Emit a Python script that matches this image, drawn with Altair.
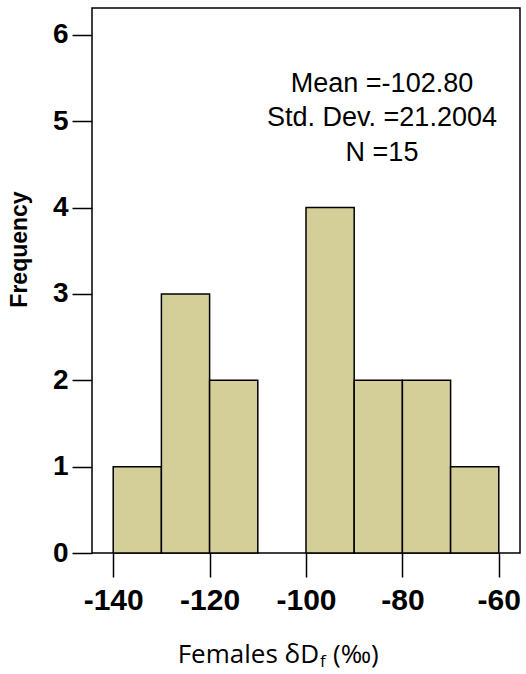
import altair as alt
import pandas as pd

# Histogram data
bin_start = [-140, -130, -120, -110, -100, -90, -80, -70]
bin_end = [-130, -120, -110, -100, -90, -80, -70, -60]
counts = [1, 3, 2, 0, 4, 2, 2, 1]

x_ticks = [-140, -120, -100, -80, -60]
y_ticks = [0, 1, 2, 3, 4, 5, 6]

stats_lines = ["Mean =-102.80", "Std. Dev. =21.2004", "N =15"]
y_title = "Frequency"
x_title_main = "Females δD"
x_title_sub = "f"
x_title_tail = "(‰)"

df = pd.DataFrame({"start": bin_start, "end": bin_end, "count": counts})

W, H = 428, 545
XDOM = [-144.4, -55.6]
YDOM = [0, 6.31]

hyphen = "datum.value < 0 ? '-' + abs(datum.value) : '' + datum.value"

bars = alt.Chart(df).transform_filter("datum.count > 0").mark_bar(
    color="#d4cf98", stroke="black", strokeWidth=1.5
).encode(
    x=alt.X("start:Q", scale=alt.Scale(domain=XDOM, nice=False, zero=False),
            axis=alt.Axis(values=x_ticks, title=None, tickSize=24, tickWidth=1.5,
                          tickColor="black", labelFont="Liberation Sans",
                          labelFontWeight="bold", labelFontSize=30, labelColor="black",
                          labelPadding=8, domain=False, grid=False, labelFlush=False,
                          labelExpr=hyphen)),
    x2="end:Q",
    y=alt.Y("count:Q", scale=alt.Scale(domain=YDOM, nice=False),
            axis=alt.Axis(values=y_ticks, title=None, tickSize=20, tickWidth=1.5,
                          tickColor="black", labelFont="Liberation Sans",
                          labelFontWeight="bold", labelFontSize=28, labelColor="black",
                          labelPadding=4, domain=False, grid=False,
                          labelFlush=False, labelExpr=hyphen)),
    y2=alt.datum(0),
)

layers = [bars]
for i, line in enumerate(stats_lines):
    layers.append(
        alt.Chart(alt.Data(values=[{"t": line}])).mark_text(
            font="Liberation Sans", fontSize=27,
            color="black", align="center", baseline="alphabetic"
        ).encode(text="t:N", x=alt.value(290), y=alt.value(84 + 34.3 * i))
    )

layers.append(
    alt.Chart(alt.Data(values=[{"t": y_title}])).mark_text(
        font="Liberation Sans", fontWeight="bold", fontSize=23, color="black",
        angle=270, align="center", baseline="alphabetic"
    ).encode(text="t:N", x=alt.value(-65), y=alt.value(241.5))
)
layers.append(
    alt.Chart(alt.Data(values=[{"t": x_title_main}])).mark_text(
        font="Open Sans", fontSize=26, color="black", align="right", baseline="alphabetic"
    ).encode(text="t:N", x=alt.value(227), y=alt.value(655))
)
layers.append(
    alt.Chart(alt.Data(values=[{"t": x_title_sub}])).mark_text(
        font="Open Sans", fontSize=17, color="black", align="left", baseline="alphabetic"
    ).encode(text="t:N", x=alt.value(228), y=alt.value(659))
)
layers.append(
    alt.Chart(alt.Data(values=[{"t": x_title_tail}])).mark_text(
        font="Open Sans", fontSize=26, color="black", align="left", baseline="alphabetic"
    ).encode(text="t:N", x=alt.value(241), y=alt.value(655))
)

chart = alt.layer(*layers).properties(
    width=W, height=H,
    autosize=alt.AutoSizeParams(type="none"),
    padding={"left": 92, "top": 8, "right": 6, "bottom": 121},
    background="white",
).configure_view(stroke="black", strokeWidth=1.5)

chart.save("out.html", embed_options={"renderer": "svg", "actions": False})
